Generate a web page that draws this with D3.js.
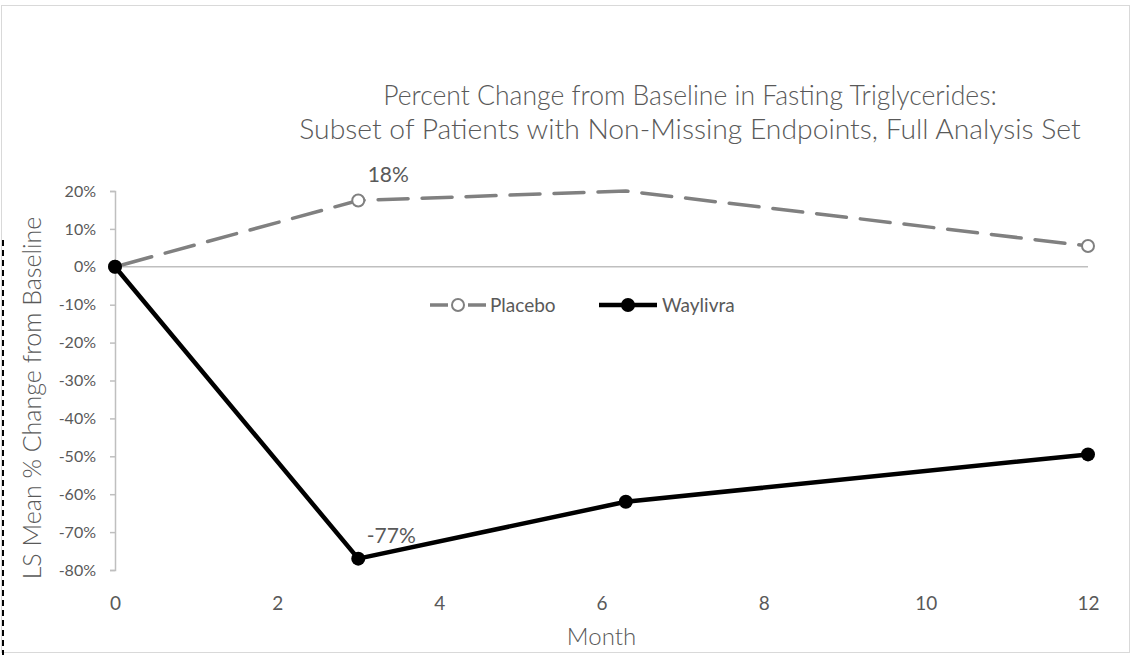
<!DOCTYPE html>
<html><head><meta charset="utf-8">
<script src="https://cdn.jsdelivr.net/npm/d3@7"></script>
<style>body{margin:0;background:#fff;} svg{display:block;}</style>
</head><body>
<svg id="c" width="1131" height="655"></svg>
<script>
// ---- data ----
const titleLines = ["Percent Change from Baseline in Fasting Triglycerides:",
                    "Subset of Patients with Non-Missing Endpoints, Full Analysis Set"];
const months = [0, 3, 6.3, 12];
const placebo = [0, 17.5, 20, 5.5];
const placeboMarkers = [true, true, false, true];
const waylivra = [0, -77, -62, -49.5];
const xTicks = [0, 2, 4, 6, 8, 10, 12];
const yTicks = [20, 10, 0, -10, -20, -30, -40, -50, -60, -70, -80];
const labelPlacebo = "18%";
const labelWaylivra = "-77%";
const seriesNames = ["Placebo", "Waylivra"];

const svg = d3.select("#c");
const font = "Lato, 'Open Sans', sans-serif";
const textCol = "#595959";

// frame
svg.append("rect").attr("x", 1.5).attr("y", 5.5).attr("width", 1128).attr("height", 647)
  .attr("fill", "none").attr("stroke", "#d9d9d9").attr("stroke-width", 1);
svg.append("line").attr("x1", 3).attr("x2", 3).attr("y1", 240).attr("y2", 655)
  .attr("stroke", "#000").attr("stroke-width", 2).attr("stroke-dasharray", "6,4");

const x = d3.scaleLinear().domain([0, 12]).range([115, 1088]);
const y = d3.scaleLinear().domain([-80, 20]).range([570, 191]);

function fitText(sel, w) {
  const l = sel.node().getComputedTextLength();
  const fs = parseFloat(sel.attr("font-size"));
  sel.attr("font-size", fs * w / l);
}
// title
const t1 = svg.append("text").attr("x", 690).attr("y", 105).attr("text-anchor", "middle")
  .attr("font-family", font).attr("font-weight", 300).attr("font-size", 22).attr("fill", textCol).text(titleLines[0]);
fitText(t1, 614);
const t2 = svg.append("text").attr("x", 690).attr("y", 139).attr("text-anchor", "middle")
  .attr("font-family", font).attr("font-weight", 300).attr("font-size", 22).attr("fill", textCol).text(titleLines[1]);
fitText(t2, 782);

// y axis
const yAxis = d3.axisLeft(y).tickValues(yTicks).tickFormat(d => d + "%").tickSizeOuter(0).tickSize(5).tickPadding(14);
const gy = svg.append("g").attr("transform", `translate(${x(0)},0)`).call(yAxis);
gy.select(".domain").attr("stroke", "#bfbfbf").attr("stroke-width", 1.5);
gy.selectAll(".tick line").attr("stroke", "#bfbfbf").attr("stroke-width", 1.5);
gy.selectAll(".tick text").attr("font-family", font).attr("font-size", 16).attr("fill", textCol);

// zero line
svg.append("line").attr("x1", x(0)).attr("x2", x(12)).attr("y1", y(0)).attr("y2", y(0))
  .attr("stroke", "#bfbfbf").attr("stroke-width", 1.5);

// x labels (no axis line)
const xAxis = d3.axisBottom(x).tickValues(xTicks).tickSize(0).tickPadding(0);
const gx = svg.append("g").attr("transform", `translate(0,596)`).call(xAxis);
gx.select(".domain").remove();
gx.selectAll(".tick text").attr("font-family", font).attr("font-size", 19).attr("fill", textCol);

svg.append("text").attr("x", x(6)).attr("y", 645).attr("text-anchor", "middle")
  .attr("font-family", font).attr("font-weight", 300).attr("font-size", 24).attr("fill", textCol).text("Month");
const yl = svg.append("text").attr("transform", `translate(41,398) rotate(-90)`).attr("text-anchor", "middle")
  .attr("font-family", font).attr("font-weight", 300).attr("font-size", 24).attr("fill", textCol).text("LS Mean % Change from Baseline");
fitText(yl, 363);

// lines
const pData = months.map((m, i) => [m, placebo[i]]);
const wData = months.map((m, i) => [m, waylivra[i]]);
const line = d3.line().x(d => x(d[0])).y(d => y(d[1]));

svg.append("path").attr("d", line(pData)).attr("fill", "none").attr("stroke", "#808080")
  .attr("stroke-width", 3.5).attr("stroke-dasharray", "30,14").attr("stroke-dashoffset", -8)
  .attr("stroke-linecap", "round").attr("stroke-linejoin", "round");
svg.selectAll(".pm").data(pData.filter((d, i) => placeboMarkers[i])).enter().append("circle")
  .attr("cx", d => x(d[0])).attr("cy", d => y(d[1])).attr("r", 6)
  .attr("fill", "#fff").attr("stroke", "#808080").attr("stroke-width", 2);

svg.append("path").attr("d", line(wData)).attr("fill", "none").attr("stroke", "#000")
  .attr("stroke-width", 4.5).attr("stroke-linejoin", "round");
svg.selectAll(".wm").data(wData).enter().append("circle")
  .attr("cx", d => x(d[0])).attr("cy", d => y(d[1])).attr("r", 7).attr("fill", "#000");

// data labels
svg.append("text").attr("x", x(months[1]) + 30).attr("y", y(placebo[1]) - 18).attr("text-anchor", "middle")
  .attr("font-family", font).attr("font-size", 21).attr("fill", textCol).text(labelPlacebo);
svg.append("text").attr("x", x(months[1]) + 33).attr("y", y(waylivra[1]) - 16).attr("text-anchor", "middle")
  .attr("font-family", font).attr("font-size", 21).attr("fill", textCol).text(labelWaylivra);

// legend
const lg = svg.append("g");
lg.append("line").attr("x1", 430).attr("x2", 486).attr("y1", 305).attr("y2", 305)
  .attr("stroke", "#808080").attr("stroke-width", 3.5).attr("stroke-dasharray", "18,20");
lg.append("circle").attr("cx", 458).attr("cy", 305).attr("r", 6).attr("fill", "#fff").attr("stroke", "#808080").attr("stroke-width", 2);
lg.append("text").attr("x", 490).attr("y", 312).attr("font-family", font).attr("font-size", 19).attr("fill", textCol).text(seriesNames[0]);
lg.append("line").attr("x1", 599).attr("x2", 657).attr("y1", 305).attr("y2", 305)
  .attr("stroke", "#000").attr("stroke-width", 4.5);
lg.append("circle").attr("cx", 628).attr("cy", 305).attr("r", 7).attr("fill", "#000");
lg.append("text").attr("x", 662).attr("y", 312).attr("font-family", font).attr("font-size", 19).attr("fill", textCol).text(seriesNames[1]);
</script>
</body></html>
